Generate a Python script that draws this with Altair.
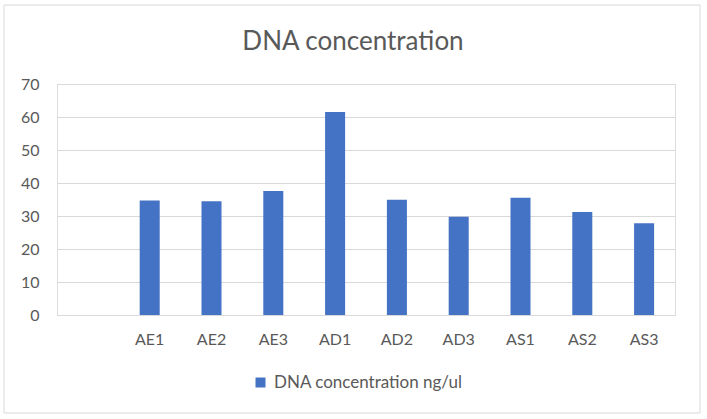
import altair as alt
import pandas as pd

categories = ["AE1", "AE2", "AE3", "AD1", "AD2", "AD3", "AS1", "AS2", "AS3"]
values = [34.7, 34.5, 37.6, 61.5, 34.9, 29.8, 35.5, 31.2, 27.8]
domain = [" "] + categories
series_name = "DNA concentration ng/ul"
y_ticks = [0, 10, 20, 30, 40, 50, 60, 70]

df = pd.DataFrame({"sample": categories, "value": values, "series": [series_name] * len(categories)})

W, H = 618, 231
TXT = "#595959"
FONT = "Lato"

bars = alt.Chart(df).mark_bar().encode(
    x=alt.X(
        "sample:N",
        sort=domain,
        scale=alt.Scale(domain=domain, paddingInner=0.676, paddingOuter=0.338),
        axis=alt.Axis(title=None, labelAngle=0, ticks=False, domain=False,
                      labelPadding=16, labelFontSize=16, labelColor=TXT, labelFont=FONT),
    ),
    y=alt.Y(
        "value:Q",
        scale=alt.Scale(domain=[0, 70], nice=False),
        axis=alt.Axis(values=y_ticks, title=None, ticks=False, domain=False, grid=True,
                      gridColor="#D9D9D9", gridWidth=1, labelPadding=18, labelFontSize=16,
                      labelColor=TXT, labelFont=FONT),
    ),
    color=alt.Color(
        "series:N",
        scale=alt.Scale(range=["#4472C4"]),
        legend=alt.Legend(orient="none", legendX=195, legendY=290, title=None,
                          symbolType="square", symbolSize=100, symbolStrokeWidth=0,
                          labelFontSize=17, labelColor=TXT, labelFont=FONT, labelLimit=0,
                          labelOffset=5, padding=0),
    ),
)

frame = alt.Chart(pd.DataFrame({"a": [0]})).mark_rect(
    fill=None, stroke="#D9D9D9", strokeWidth=1
).encode(
    x=alt.value(-53), x2=alt.value(643), y=alt.value(-79), y2=alt.value(329)
)

chart = alt.layer(frame, bars).properties(
    width=W,
    height=H,
    title=alt.TitleParams("DNA concentration", fontSize=26, font=FONT, color=TXT,
                          fontWeight="normal", anchor="middle", dx=-13,
                          baseline="alphabetic", offset=-71),
    autosize=alt.AutoSizeParams(type="none"),
    padding={"left": 57, "top": 84, "right": 32, "bottom": 104},
).configure_view(stroke=None).configure(background="white")

chart.save("out.html", embed_options={"renderer": "svg", "actions": False})
